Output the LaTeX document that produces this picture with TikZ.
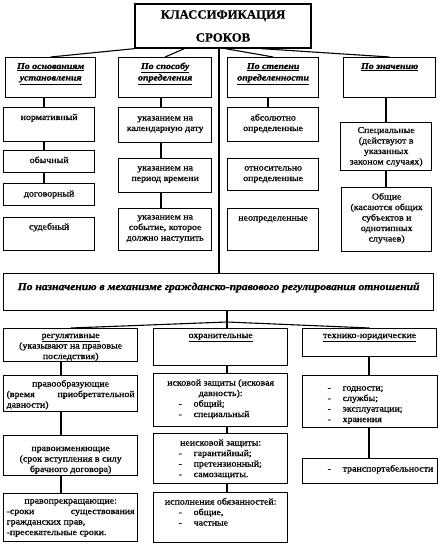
\documentclass[tikz,border=0pt]{standalone}
\usepackage{fontspec}
\setmainfont[FakeStretch=1.1,FakeBold=1]{Liberation Serif}
\newfontfamily\titlefont[FakeBold=0.5]{Liberation Serif}
\usetikzlibrary{calc}
\newcommand\tbx[4]{\parbox[t][#2pt][t]{\dimexpr#1pt-6pt\relax}{\vspace*{#3pt}\centering\strut #4}}
\newcommand\tbxl[4]{\parbox[t][#2pt][t]{\dimexpr#1pt-6pt\relax}{\vspace*{#3pt}#4}}
\newcommand\hd[1]{\underline{\textbf{\textit{#1}}}}
\newcommand\itm[1]{\hbox to\linewidth{\strut\hspace*{22pt}\makebox[15pt][l]{-}#1\hfil}}
\newcommand\jst[2]{\hbox to\linewidth{\strut #1\hfil #2}}
\newcommand\lft[1]{\hbox to\linewidth{\strut #1\hfil}}
\begin{document}
\begin{tikzpicture}[x=1pt,y=-1pt,
  box/.style={draw, line width=1.3pt, inner xsep=3pt, inner ysep=0pt, anchor=north west, font=\fontsize{9}{10.5}\selectfont},
  conn/.style={line width=1.1pt},
  mainline/.style={line width=1.9pt}]
\useasboundingbox[fill=white] (0,0) rectangle (438,545);

% title
\node[box, inner sep=0pt, anchor=center, minimum width=176pt, minimum height=44pt, align=center,
  font=\titlefont\bfseries\fontsize{12.8}{23}\selectfont] (title) at (223,26) {КЛАССИФИКАЦИЯ\\СРОКОВ};

% headers
\node[box] (h1) at (5,57) {\tbx{90}{40}{4}{\hd{По основаниям}\\[1pt]\hd{установления}}};
\node[box] (h2) at (118,57) {\tbx{93}{40}{4}{\hd{По способу}\\[1pt]\hd{определения}}};
\node[box] (h3) at (227,57) {\tbx{91}{40}{4}{\hd{По степени}\\[1pt]\hd{определенности}}};
\node[box] (h4) at (343,57) {\tbx{92}{40}{4}{\hd{По значению}}};

% children
\node[box] (c1a) at (3,107) {\tbx{91}{34}{5}{нормативный}};
\node[box] (c1b) at (3,150) {\tbx{91}{22}{5}{обычный}};
\node[box] (c1c) at (3,183) {\tbx{91}{22}{5.5}{договорный}};
\node[box] (c1d) at (3,217) {\tbx{91}{33}{4.5}{судебный}};
\node[box] (c2a) at (118,107) {\tbx{93}{35}{5.5}{указанием на\\календарную дату}};
\node[box] (c2b) at (118,158) {\tbx{93}{34}{4.5}{указанием на\\период времени}};
\node[box] (c2c) at (118,208) {\tbx{93}{42}{3.5}{указанием на\\событие, которое\\должно наступить}};
\node[box] (c3a) at (227,107) {\tbx{91}{34}{5.5}{абсолютно\\определенные}};
\node[box] (c3b) at (227,158) {\tbx{91}{32}{4.5}{относительно\\определенные}};
\node[box] (c3c) at (227,208) {\tbx{91}{42}{4.5}{неопределенные}};
\node[box] (c4a) at (340,122) {\tbx{91}{48}{3}{Специальные\\(действуют в\\указанных\\законом случаях)}};
\node[box] (c4b) at (341,187) {\tbx{90}{64}{4.5}{Общие\\(касаются общих\\субъектов и\\однотипных\\случаев)}};

% banner
\node[box, font=\fontsize{10.5}{12}\selectfont\bfseries\itshape] (ban) at (3,273)
  {\tbx{430}{37}{8}{По назначению в механизме гражданско-правового регулирования отношений}};

% bottom row
\node[box] (b1) at (3,328) {\tbx{134}{33}{2}{\underline{регулятивные}\\(указывают на правовые\\последствия)}};
\node[box] (b2) at (153,328) {\tbx{134}{37}{2}{\underline{охранительные}}};
\node[box] (b3) at (302,328) {\tbx{134}{28}{2}{\underline{технико-юридические}}};
\node[box] (b1a) at (3,375) {\tbx{134}{36}{3.5}{правообразующие\par\jst{(время}{приобретательной}\lft{давности)}}};
\node[box] (b1b) at (3,435) {\tbx{134}{40}{8}{правоизменяющие\\(срок вступления в силу\\брачного договора)}};
\node[box] (b1c) at (3,493) {\tbx{134}{48}{2.5}{правопрекращающие:\par\jst{-сроки}{существования}\lft{гражданских прав,}\lft{-пресекательные сроки.}}};
\node[box] (b2a) at (153,373) {\tbx{134}{53}{4.5}{исковой защиты (исковая\\давность):\par\itm{общий;}\itm{специальный}}};
\node[box] (b2b) at (153,433) {\tbx{134}{50}{4.5}{неисковой защиты:\par\itm{гарантийный;}\itm{претензионный;}\itm{самозащиты.}}};
\node[box] (b2c) at (153,492) {\tbx{134}{50}{4.5}{исполнения обязанностей:\par\itm{общие,}\itm{частные}}};
\node[box] (b3a) at (302,375) {\tbxl{135}{52}{7.5}{\itm{годности;}\itm{службы;}\itm{эксплуатации;}\itm{хранения}}};
\node[box] (b3b) at (302,458) {\tbxl{135}{25}{5.5}{\itm{транспортабельности}}};

% connector helper coordinates
\coordinate (t1) at (title.south west);
\coordinate (t2) at ($(title.south west)+(50,0)$);
\coordinate (t3) at ($(title.south west)+(91,0)$);
\coordinate (t4) at ($(title.south west)+(127,0)$);
\coordinate (v1) at (44,0);
\coordinate (v2) at (161,0);
\coordinate (v3) at (268,0);
\coordinate (v4) at (386,0);
\coordinate (cx) at (219,0);
\coordinate (w1) at (61,0);
\coordinate (w2) at (227,0);
\coordinate (w3) at (369,0);
\coordinate (j) at (227,322);

% title to headers
\draw[conn] (t1) -- (h1.north);
\draw[conn] (t2) -- (h2.north);
\draw[conn] (t3) -- (h3.north);
\draw[conn] (t4) -- (h4.north);
\draw[mainline] (title.south -| cx) -- (ban.north -| cx);

% column connectors
\draw[conn] (h1.south -| v1) -- (c1a.north -| v1);
\draw[conn] (c1a.south -| v1) -- (c1b.north -| v1);
\draw[conn] (c1b.south -| v1) -- (c1c.north -| v1);
\draw[conn] (h2.south -| v2) -- (c2a.north -| v2);
\draw[conn] (c2a.south -| v2) -- (c2b.north -| v2);
\draw[conn] (c2b.south -| v2) -- (c2c.north -| v2);
\draw[conn] (h3.south -| v3) -- (c3a.north -| v3);
\draw[conn] (h4.south -| v4) -- (c4a.north -| v4);
\draw[conn] (c4a.south -| v4) -- (c4b.north -| v4);

% banner fan
\draw[conn] (ban.south -| j) -- (j);
\draw[conn] (j) -- (b1.north);
\draw[conn] (j) -- (b2.north -| j);
\draw[conn] (j) -- (b3.north);

% bottom connectors
\draw[conn] (b1.south -| w1) -- (b1a.north -| w1);
\draw[conn] (b1a.south -| w1) -- (b1b.north -| w1);
\draw[conn] (b1b.south -| w1) -- (b1c.north -| w1);
\draw[conn] (b2.south -| w2) -- (b2a.north -| w2);
\draw[conn] (b2a.south -| w2) -- (b2b.north -| w2);
\draw[conn] (b2b.south -| w2) -- (b2c.north -| w2);
\draw[conn] (b3.south -| w3) -- (b3a.north -| w3);
\draw[conn] (b3a.south -| w3) -- (b3b.north -| w3);
\end{tikzpicture}
\end{document}
